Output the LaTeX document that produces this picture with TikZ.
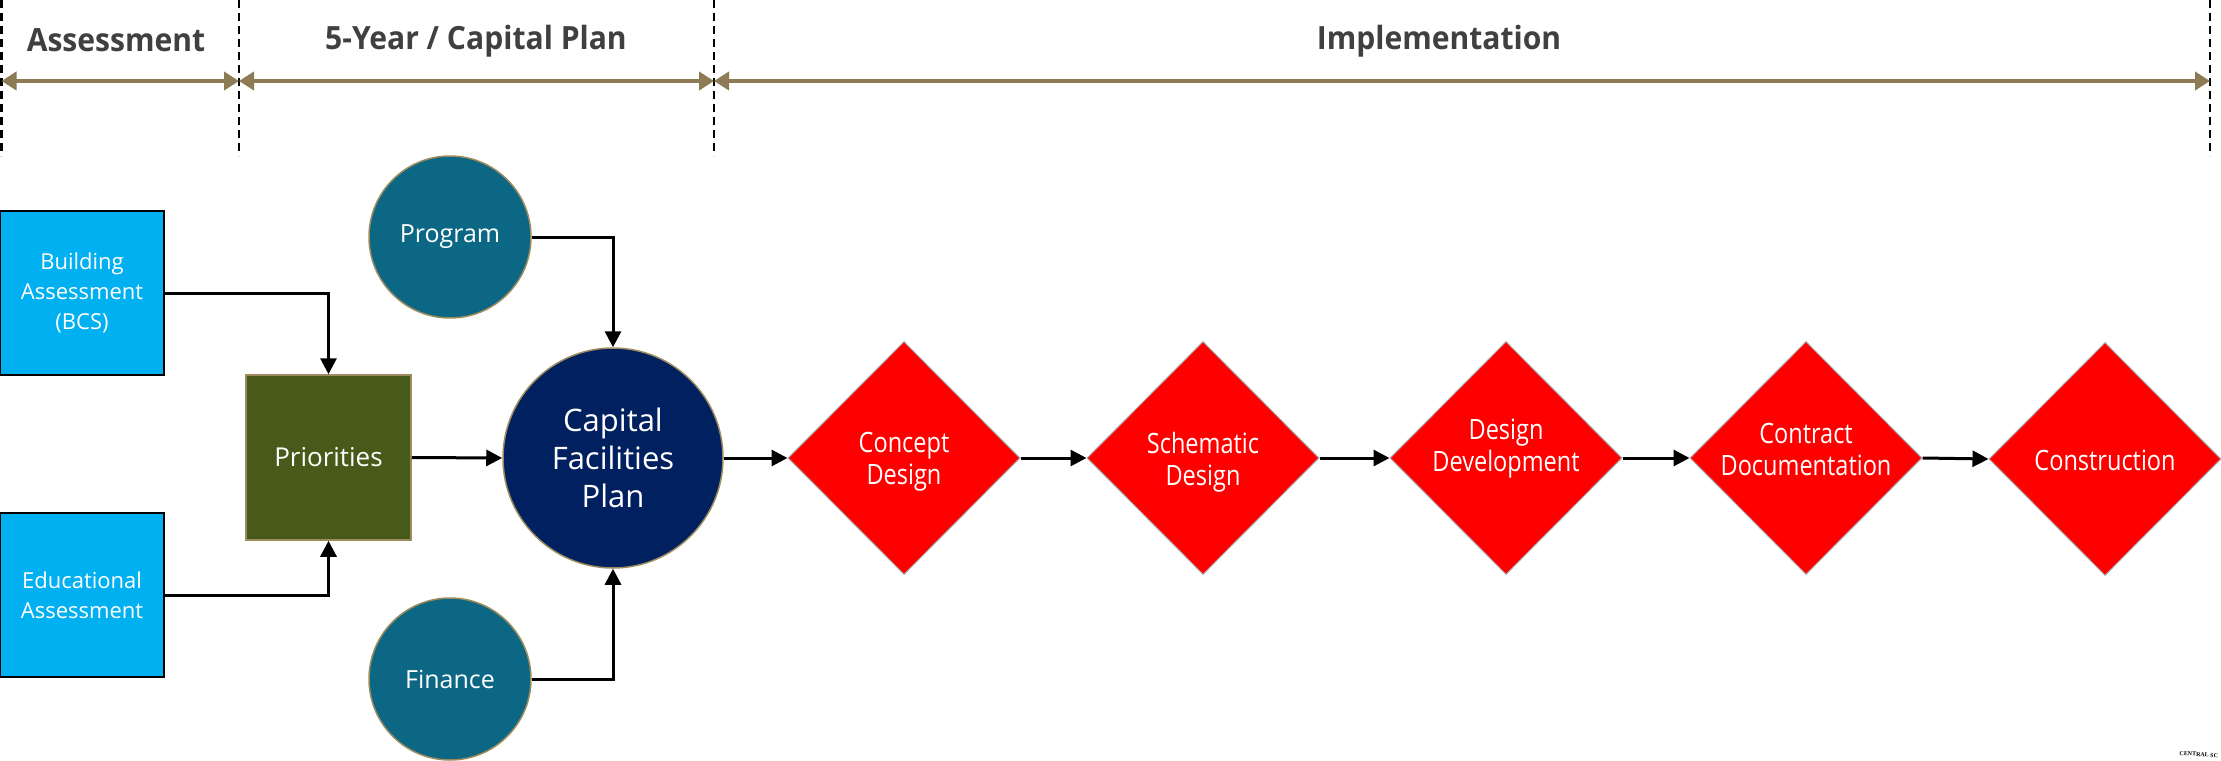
\documentclass[tikz,border=0pt]{standalone}
\usepackage{fontspec}
\setmainfont{Open Sans}
\newfontfamily\wmfont{Liberation Serif}
\usetikzlibrary{arrows.meta,shapes.geometric}
\definecolor{cyanbox}{HTML}{00B0F0}
\definecolor{olivebox}{HTML}{475A1A}
\definecolor{tealc}{HTML}{0B6784}
\definecolor{navyc}{HTML}{002060}
\definecolor{tanline}{HTML}{8C7B55}
\definecolor{hdr}{HTML}{404040}
\definecolor{rimc}{HTML}{9E8C5E}
\definecolor{redd}{HTML}{FF0000}
\begin{document}
\begin{tikzpicture}[x=1pt,y=-1pt,
  hdrtext/.style={font=\fontsize{32}{36}\selectfont\bfseries, text=hdr, inner sep=0pt, xscale=0.94},
  phase/.style={draw=black, line width=2.5pt, dash pattern=on 8pt off 5pt},
  span/.style={draw=tanline, line width=4pt, {Triangle[length=15pt,width=18pt]}-{Triangle[length=15pt,width=18pt]}},
  assess/.style={rectangle, fill=cyanbox, draw=black, line width=2pt, minimum width=164pt, minimum height=164pt, inner sep=0pt, align=center, text=white, font=\fontsize{22}{30}\selectfont},
  prio/.style={rectangle, fill=olivebox, draw=rimc, line width=1.5pt, minimum width=165pt, minimum height=165pt, inner sep=0pt, text=white, font=\fontsize{26}{30}\selectfont},
  inputc/.style={circle, fill=tealc, draw=rimc, line width=1.5pt, minimum size=162pt, inner sep=0pt, text=white, font=\fontsize{25}{30}\selectfont},
  mainc/.style={circle, fill=navyc, draw=rimc, line width=1.5pt, minimum size=220pt, inner sep=0pt, align=center, text=white, font=\fontsize{31}{38}\selectfont},
  dia/.style={diamond, aspect=1, fill=redd, draw=gray!70, line width=1pt, minimum width=232pt, minimum height=233pt, inner sep=0pt},
  dtext/.style={align=center, text=white, inner sep=0pt, font=\fontsize{28}{32}\selectfont, xscale=0.84},
  conn/.style={draw=black, line width=3pt, -{Triangle[length=16pt,width=16pt]}}
]
\useasboundingbox (0,0) rectangle (2221,760);
\fill[white] (0,0) rectangle (2221,760);

% phase dividers
\coordinate (t0) at (1.5,0);   \coordinate (b0) at (1.5,156);
\coordinate (t1) at (239,0);   \coordinate (b1) at (239,156);
\coordinate (t2) at (714,0);   \coordinate (b2) at (714,156);
\coordinate (t3) at (2210,0);  \coordinate (b3) at (2210,156);
\draw[phase] (t0) -- (b0);
\draw[phase] (t1) -- (b1);
\draw[phase] (t2) -- (b2);
\draw[phase] (t3) -- (b3);

\coordinate (a0) at (1.5,81);
\coordinate (a1) at (239,81);
\coordinate (a2) at (714,81);
\coordinate (a3) at (2210,81);
\draw[span] (a0) -- (a1);
\draw[span] (a1) -- (a2);
\draw[span] (a2) -- (a3);

\node[hdrtext] (h1) at (116,40) {Assessment};
\node[hdrtext] (h2) at (476,41) {5-Year / Capital Plan};
\node[hdrtext] (h3) at (1439,41) {Implementation};

% nodes
\node[assess] (bldg) at (82,293) {Building\\Assessment\\(BCS)};
\node[assess] (edu) at (82,595) {Educational\\Assessment};
\node[prio] (prio) at (328.5,457.5) {Priorities};
\node[inputc] (prog) at (450,237) {Program};
\node[inputc] (fin) at (450,679) {Finance};
\node[mainc] (cfp) at (613,458) {Capital\\Facilities\\Plan};

\node[dia] (d1) at (904,458) {};
\node[dia] (d2) at (1203,458) {};
\node[dia] (d3) at (1506,458) {};
\node[dia] (d4) at (1806,458) {};
\node[dia] (d5) at (2105,459) {};
\node[dtext] (t1x) at ([yshift=-4pt]d1) {Concept\\Design};
\node[dtext] (t2x) at ([yshift=-4pt]d2) {Schematic\\Design};
\node[dtext] (t3x) at ([yshift=9pt]d3) {Design\\Development};
\node[dtext] (t4x) at ([yshift=9pt]d4) {Contract\\Documentation};
\node[dtext] (t5x) at ([yshift=-1pt]d5) {Construction};

% connectors
\draw[conn] (bldg.east) -| (prio.north);
\draw[conn] (edu.east) -| (prio.south);
\draw[conn] (prio.east) -- (cfp.west);
\draw[conn] (prog.east) -| (cfp.north);
\draw[conn] (fin.east) -| (cfp.south);
\draw[conn] (cfp.east) -- (d1.west);
\draw[conn] (d1.east) -- (d2.west);
\draw[conn] (d2.east) -- (d3.west);
\draw[conn] (d3.east) -- (d4.west);
\draw[conn] (d4.east) -- (d5.west);

% watermark fragment
\node[font=\wmfont\fontsize{6}{7}\selectfont\bfseries, rotate=-4, inner sep=0pt, anchor=south east] (wm) at (2218,758) {CENTRAL SC};
\end{tikzpicture}
\end{document}
